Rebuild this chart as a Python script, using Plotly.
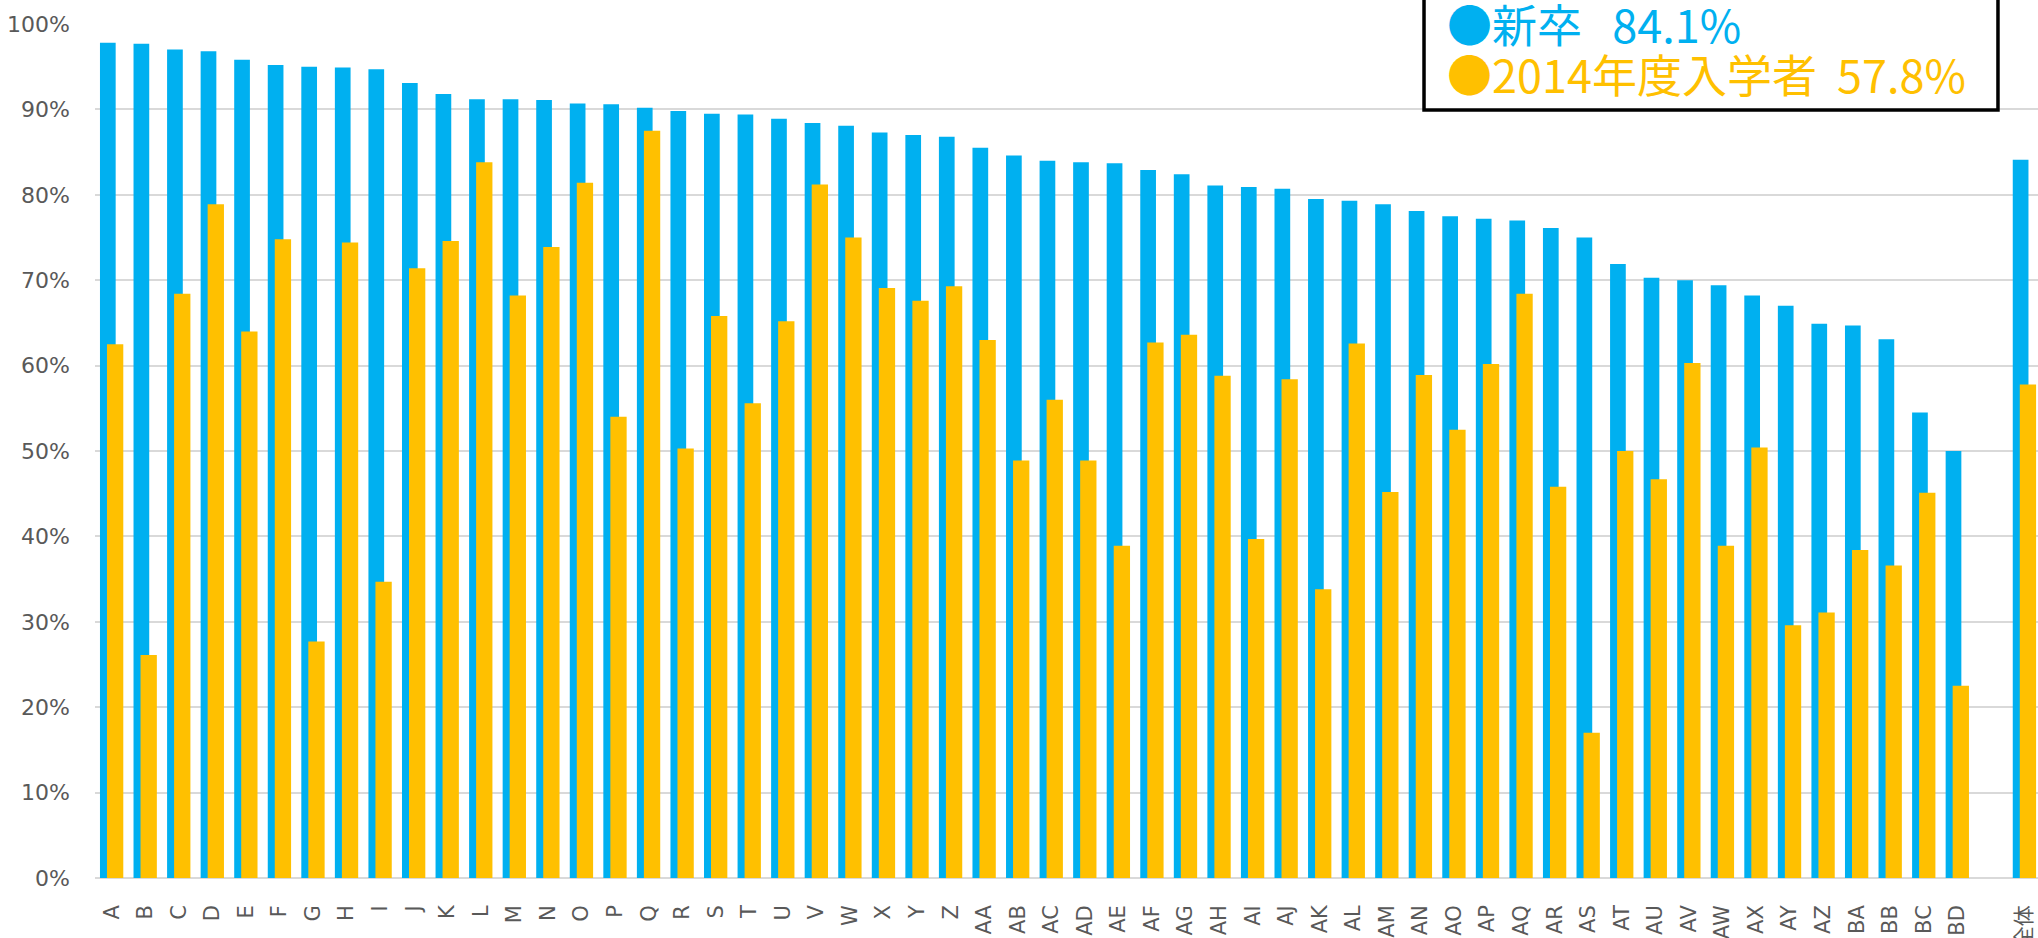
import plotly.graph_objects as go

categories = ["A", "B", "C", "D", "E", "F", "G", "H", "I", "J", "K", "L", "M", "N",
              "O", "P", "Q", "R", "S", "T", "U", "V", "W", "X", "Y", "Z",
              "AA", "AB", "AC", "AD", "AE", "AF", "AG", "AH", "AI", "AJ", "AK", "AL",
              "AM", "AN", "AO", "AP", "AQ", "AR", "AS", "AT", "AU", "AV", "AW", "AX",
              "AY", "AZ", "BA", "BB", "BC", "BD", " ", "全体"]

shinsotsu = [97.8, 97.7, 97.0, 96.8, 95.8, 95.2, 95.0, 94.9, 94.7, 93.1, 91.8, 91.2, 91.2, 91.1,
             90.7, 90.6, 90.2, 89.8, 89.5, 89.4, 88.9, 88.4, 88.1, 87.3, 87.0, 86.8,
             85.5, 84.6, 84.0, 83.8, 83.7, 82.9, 82.4, 81.1, 80.9, 80.7, 79.5, 79.3,
             78.9, 78.1, 77.5, 77.2, 77.0, 76.1, 75.0, 71.9, 70.3, 70.0, 69.4, 68.2,
             67.0, 64.9, 64.7, 63.1, 54.5, 50.0, None, 84.1]

nyugaku2014 = [62.5, 26.1, 68.4, 78.9, 64.0, 74.8, 27.7, 74.4, 34.7, 71.4, 74.6, 83.8, 68.2, 73.9,
               81.4, 54.0, 87.5, 50.3, 65.8, 55.6, 65.2, 81.2, 75.0, 69.1, 67.6, 69.3,
               63.0, 48.9, 56.0, 48.9, 38.9, 62.7, 63.6, 58.8, 39.7, 58.4, 33.8, 62.6,
               45.2, 58.9, 52.5, 60.2, 68.4, 45.8, 17.0, 50.0, 46.7, 60.3, 38.9, 50.4,
               29.6, 31.1, 38.4, 36.6, 45.1, 22.5, None, 57.8]

y_ticks = [0, 10, 20, 30, 40, 50, 60, 70, 80, 90, 100]

series_names = ["新卒", "2014年度入学者"]
series_totals = ["84.1%", "57.8%"]
series_gaps = ["   ", "  "]

BLUE = "#00B0F0"
GOLD = "#FFC000"
GRAY_TXT = "#595959"
GRID = "#D9D9D9"

fig = go.Figure()
fig.add_trace(go.Bar(x=categories, y=shinsotsu, name=series_names[0],
                     marker=dict(color=BLUE, line=dict(width=0)),
                     offset=-0.352, width=0.468))
fig.add_trace(go.Bar(x=categories, y=nyugaku2014, name=series_names[1],
                     marker=dict(color=GOLD, line=dict(width=0)),
                     offset=-0.143, width=0.486))

fig.update_layout(
    width=2038, height=938,
    margin=dict(l=95, r=0, t=24, b=60),
    barmode="overlay",
    showlegend=False,
    plot_bgcolor="white",
    paper_bgcolor="white",
    font=dict(family="DejaVu Sans, Noto Sans CJK JP", color=GRAY_TXT),
)

fig.update_xaxes(
    type="category", categoryorder="array", categoryarray=categories,
    range=[-0.5, 57.4],
    automargin=False,
    tickangle=-90,
    tickfont=dict(family="DejaVu Sans, Noto Sans CJK JP", size=21, color=GRAY_TXT),
    showgrid=False, showline=False, ticks="",
    ticklabelstandoff=22,
)
fig.update_yaxes(
    range=[0, 100],
    automargin=False,
    tickvals=y_ticks, ticktext=[f"{v}%" for v in y_ticks],
    tickfont=dict(family="DejaVu Sans", size=22, color=GRAY_TXT),
    showgrid=True, gridcolor=GRID, gridwidth=1.5,
    zeroline=True, zerolinecolor=GRID, zerolinewidth=1.5,
    showline=False, ticks="",
    ticklabelstandoff=24,
)

# legend-like label box (top edge runs off the figure)
fig.add_shape(type="rect", xref="paper", yref="paper",
              x0=0.684, x1=0.9794, y0=0.8993, y1=1.2,
              line=dict(color="black", width=3.5), fillcolor="white", layer="above")

colors = [BLUE, GOLD]
ys = [1.0001, 0.9426]
for name, gap, tot, col, yy in zip(series_names, series_gaps, series_totals, colors, ys):
    fig.add_annotation(xref="paper", yref="paper", x=0.6946, y=yy,
                       xanchor="left", yanchor="middle", showarrow=False,
                       text=f"●{name}{gap}{tot}",
                       font=dict(family="Noto Sans CJK JP", size=45, color=col))

fig.write_html("out.html",
               config={"displayModeBar": False},
               post_script="document.body.style.margin='0';document.body.style.overflow='hidden';")
